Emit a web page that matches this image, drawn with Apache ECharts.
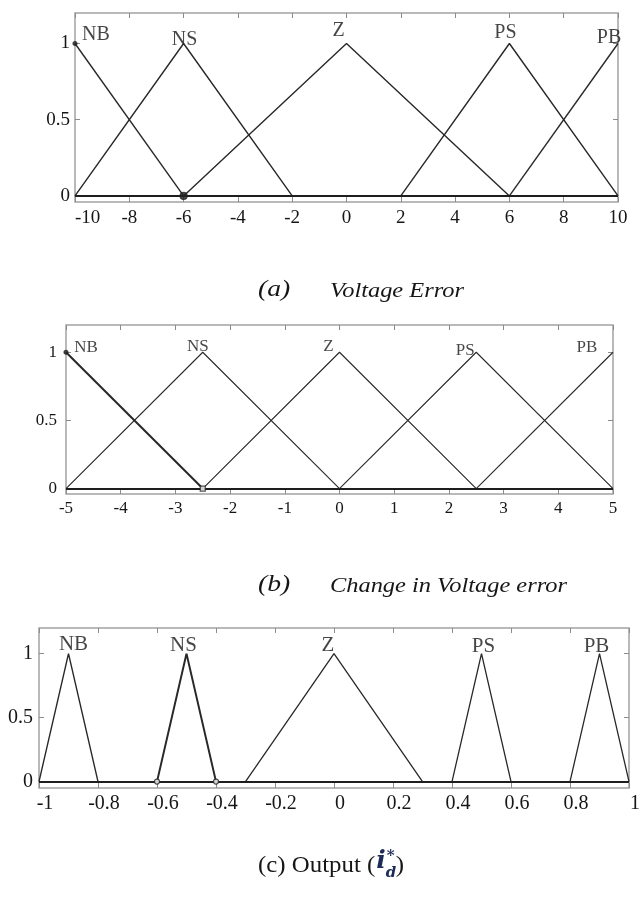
<!DOCTYPE html>
<html>
<head>
<meta charset="utf-8">
<script src="https://cdn.jsdelivr.net/npm/echarts@6/dist/echarts.min.js"></script>
<style>
  html, body { margin: 0; padding: 0; background: #ffffff; }
  #chart { width: 643px; height: 898px; }
</style>
</head>
<body>
<div id="chart"></div>
<script>
// Fuzzy membership functions: each set is a polyline of [x, membership] vertices.
const setNames = ['NB', 'NS', 'Z', 'PS', 'PB'];

// (a) Voltage error
const errRange = [-10, 10];
const errStep = 2;
const errNB = [[-10, 1], [-6, 0]];
const errNS = [[-10, 0], [-6, 1], [-2, 0]];
const errZ  = [[-6, 0], [0, 1], [6, 0]];
const errPS = [[2, 0], [6, 1], [10, 0]];
const errPB = [[6, 0], [10, 1]];

// (b) Change in voltage error
const dErrRange = [-5, 5];
const dErrStep = 1;
const dErrNB = [[-5, 1], [-2.5, 0]];
const dErrNS = [[-5, 0], [-2.5, 1], [0, 0]];
const dErrZ  = [[-2.5, 0], [0, 1], [2.5, 0]];
const dErrPS = [[0, 0], [2.5, 1], [5, 0]];
const dErrPB = [[2.5, 0], [5, 1]];

// (c) Output i_d*
const outRange = [-1, 1];
const outStep = 0.2;
const outNB = [[-1, 0], [-0.9, 1], [-0.8, 0]];
const outNS = [[-0.6, 0], [-0.5, 1], [-0.4, 0]];
const outZ  = [[-0.3, 0], [0, 1], [0.3, 0]];
const outPS = [[0.4, 0], [0.5, 1], [0.6, 0]];
const outPB = [[0.8, 0], [0.9, 1], [1, 0]];

// Membership axis ticks
const muTicks = [0, 0.5, 1];

const SERIF = '"Liberation Serif", "Times New Roman", serif';
const INK = '#161616';
const LINE = '#282828';
const FRAME = '#a3a3a3';

// Layout and styling per panel
const panels = [
  {
    sets: [errNB, errNS, errZ, errPS, errPB], range: errRange, step: errStep,
    grid: { left: 75, top: 13, width: 543, height: 189 }, muMin: -0.04, muMax: 1.2,
    font: 19, setFont: 20, xMargin: 7, yMargin: 5, labelPad: 0,
    widths: [1.4, 1.4, 1.4, 1.4, 1.4],
    labelOffsets: [[21, -9], [1, -4], [-8, -13], [-4, -11], [-9, -6]],
    marks: [{ p: errZ[0], symbol: 'circle', size: 7, fill: '#222' },
            { p: errNB[0], symbol: 'circle', size: 4, fill: '#222' }]
  },
  {
    sets: [dErrNB, dErrNS, dErrZ, dErrPS, dErrPB], range: dErrRange, step: dErrStep,
    grid: { left: 66, top: 325, width: 547, height: 169 }, muMin: -0.04, muMax: 1.2,
    font: 17, setFont: 17, xMargin: 6, yMargin: 9, labelPad: 0,
    widths: [2, 1.1, 1.1, 1.1, 1.1],
    labelOffsets: [[20, -5], [-5, -6], [-11, -6], [-11, -2], [-26, -5]],
    marks: [{ p: dErrNB[0], symbol: 'circle', size: 4, fill: '#222' },
            { p: dErrNB[1], symbol: 'rect', size: 5, fill: '#fff' }]
  },
  {
    sets: [outNB, outNS, outZ, outPS, outPB], range: outRange, step: outStep,
    grid: { left: 39, top: 628, width: 600, height: 160 }, muMin: -0.05, muMax: 1.2,
    font: 20, setFont: 21, xMargin: 6, yMargin: 6, labelPad: 12,
    widths: [1.4, 2, 1.3, 1.3, 1.3],
    labelOffsets: [[5, -9], [-3, -8], [-6, -8], [2, -7], [-3, -7]],
    marks: [{ p: outNS[0], symbol: 'circle', size: 5, fill: '#fff' },
            { p: outNS[2], symbol: 'circle', size: 5, fill: '#fff' }]
  }
];

const grids = [], xAxes = [], yAxes = [], series = [];

panels.forEach((pn, i) => {
  grids.push(Object.assign({ show: true, borderColor: FRAME, borderWidth: 1.5, backgroundColor: 'transparent' }, pn.grid));

  const tick = { show: true, inside: true, length: 5, lineStyle: { color: '#8c8c8c', width: 1 } };
  const xBase = { type: 'value', gridIndex: i, min: pn.range[0], max: pn.range[1], interval: pn.step,
                  axisLine: { show: false, onZero: false }, splitLine: { show: false }, axisTick: tick };
  xAxes.push(Object.assign({}, xBase, {
    position: 'bottom',
    axisLabel: { show: true, color: INK, fontFamily: SERIF, fontSize: pn.font, margin: pn.xMargin,
                 padding: [0, 0, 0, pn.labelPad], alignMinLabel: i === 0 ? 'left' : 'center',
                 formatter: v => String(Math.round(v * 10) / 10) }
  }));
  xAxes.push(Object.assign({}, xBase, { position: 'top', axisLabel: { show: false } }));

  const yBase = { type: 'value', gridIndex: i, min: pn.muMin, max: pn.muMax,
                  axisLine: { show: false, onZero: false }, splitLine: { show: false },
                  axisTick: Object.assign({}, tick, { customValues: muTicks }) };
  yAxes.push(Object.assign({}, yBase, {
    position: 'left',
    axisLabel: { show: true, customValues: muTicks, color: INK, fontFamily: SERIF, fontSize: pn.font, margin: pn.yMargin }
  }));
  yAxes.push(Object.assign({}, yBase, { position: 'right', axisLabel: { show: false } }));

  const xi = i * 2, yi = i * 2;

  pn.sets.forEach((pts, k) => {
    const s = {
      type: 'line', name: setNames[k], xAxisIndex: xi, yAxisIndex: yi, data: pts,
      symbol: 'none', silent: true, animation: false,
      lineStyle: { color: LINE, width: pn.widths[k] }
    };
    if (k === 0) {
      // membership = 0 baseline
      s.markLine = { silent: true, symbol: 'none', animation: false, label: { show: false },
                     lineStyle: { color: '#1e1e1e', width: 2, type: 'solid' }, data: [{ yAxis: 0 }] };
    }
    series.push(s);
  });

  // set names above each peak
  series.push({
    type: 'scatter', xAxisIndex: xi, yAxisIndex: yi, symbolSize: 1, silent: true, animation: false,
    itemStyle: { color: 'rgba(0,0,0,0)' },
    data: pn.sets.map((pts, k) => {
      const peak = pts.reduce((a, b) => (b[1] > a[1] ? b : a));
      return {
        name: setNames[k], value: peak,
        label: { show: true, position: 'inside', formatter: '{b}', offset: pn.labelOffsets[k],
                 color: INK, fontFamily: SERIF, fontSize: pn.setFont }
      };
    })
  });

  // vertex markers
  series.push({
    type: 'scatter', xAxisIndex: xi, yAxisIndex: yi, silent: true, animation: false, z: 5,
    data: pn.marks.map(m => ({
      value: m.p, symbol: m.symbol, symbolSize: m.size,
      itemStyle: { color: m.fill, borderColor: '#222', borderWidth: 1.2 }
    }))
  });
});

// Captions
const measure = (() => {
  const ctx = document.createElement('canvas').getContext('2d');
  return (text, font) => { ctx.font = font; return ctx.measureText(text).width; };
})();

const capFontA = 'italic 24px ' + SERIF;
const capFontSub = 'italic 20px ' + SERIF;
const capFontC = '23px ' + SERIF;
const mathFont = 'italic bold 25px "DejaVu Serif", serif';
const mathSmall = 'italic bold 15px "DejaVu Serif", serif';
const wideA = 1.15, wideSub = 1.22, wideC = 1.08;
const outText = '(c) Output (';
const cX = 258;
const iX = cX + measure(outText, capFontC) * wideC;
const iW = measure('i', mathFont);

const graphics = [
  { type: 'text', left: 258, top: 278, scaleX: wideA, style: { text: '(a)', font: capFontA, fill: INK } },
  { type: 'text', left: 330, top: 282, scaleX: wideSub, style: { text: 'Voltage Error', font: capFontSub, fill: INK } },
  { type: 'text', left: 258, top: 573, scaleX: wideA, style: { text: '(b)', font: capFontA, fill: INK } },
  { type: 'text', left: 330, top: 577, scaleX: wideSub, style: { text: 'Change in Voltage error', font: capFontSub, fill: INK } },
  { type: 'text', left: cX, top: 854, scaleX: wideC, style: { text: outText, font: capFontC, fill: INK } },
  { type: 'text', left: iX + 1, top: 849, style: { text: 'i', font: mathFont, fill: '#1d2b57' } },
  { type: 'text', left: iX + iW + 2, top: 849, style: { text: '*', font: mathSmall, fill: '#1d2b57' } },
  { type: 'text', left: iX + iW + 1, top: 866, style: { text: 'd', font: mathSmall, fill: '#1d2b57' } },
  { type: 'text', left: iX + iW + 11, top: 854, scaleX: wideC, style: { text: ')', font: capFontC, fill: INK } }
];

const chart = echarts.init(document.getElementById('chart'), null, { renderer: 'canvas' });
chart.setOption({
  animation: false,
  backgroundColor: '#ffffff',
  grid: grids,
  xAxis: xAxes,
  yAxis: yAxes,
  series: series,
  graphic: graphics
});
</script>
</body>
</html>
